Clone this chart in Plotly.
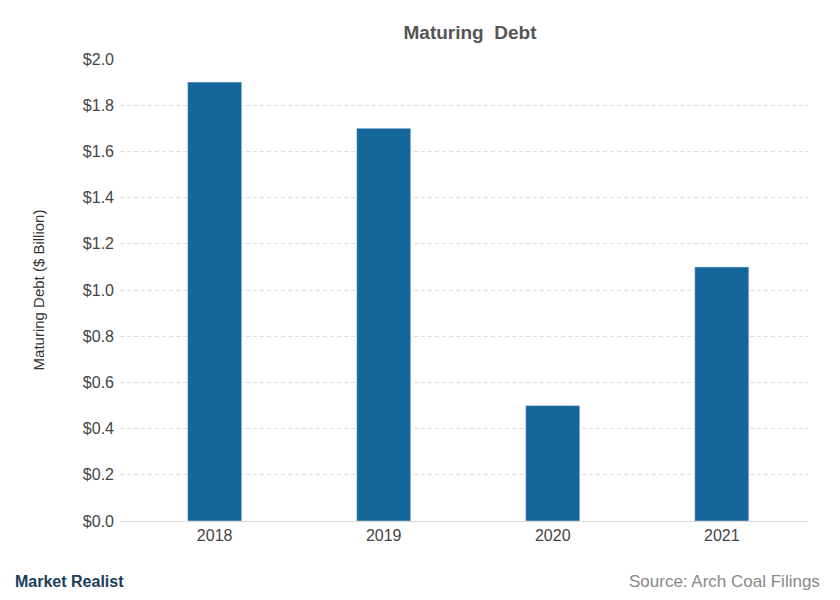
import plotly.graph_objects as go

years = ["2018", "2019", "2020", "2021"]
debt = [1.9, 1.7, 0.5, 1.1]
yticks = [0, 0.2, 0.4, 0.6, 0.8, 1.0, 1.2, 1.4, 1.6, 1.8, 2.0]
ytext = ["$%.1f" % v for v in yticks]

fig = go.Figure(go.Bar(x=years, y=debt, marker_color="#14669b", width=0.32))
fig.update_layout(
    width=840, height=600, plot_bgcolor="white", paper_bgcolor="white",
    margin=dict(l=112, r=40, t=51, b=87),
    font=dict(family="Liberation Sans, Arial", color="#555555"),
    title=dict(text="<b>Maturing  Debt</b>", x=0.55, xanchor="center", xref="container",
               y=0.96, yanchor="middle", font=dict(size=19, color="#555555")),
    showlegend=False,
)
fig.update_yaxes(range=[0, 2.0], tickvals=yticks, ticktext=ytext,
                 showgrid=True, gridcolor="#dddddd", griddash="4px,3px",
                 tickfont=dict(size=16, color="#444444"), zeroline=False, ticklabelstandoff=5,
                 title=dict(text="Maturing Debt ($ Billion)", font=dict(size=15, color="#333333"), standoff=34))
fig.update_xaxes(range=[-0.56, 3.51], tickfont=dict(size=16, color="#444444"),
                 showline=True, linecolor="#d9d9d9")
fig.add_annotation(text="Source: Arch Coal Filings", xref="paper", yref="paper", x=1.02, y=-0.13,
                   xanchor="right", yanchor="middle", showarrow=False, font=dict(size=17, color="#888888"))
fig.add_annotation(text="<b>Market Realist</b>", xref="paper", yref="paper", x=-0.155, y=-0.13,
                   xanchor="left", yanchor="middle", showarrow=False, font=dict(size=16, color="#1a3d5c"))
fig.write_html("out.html")
